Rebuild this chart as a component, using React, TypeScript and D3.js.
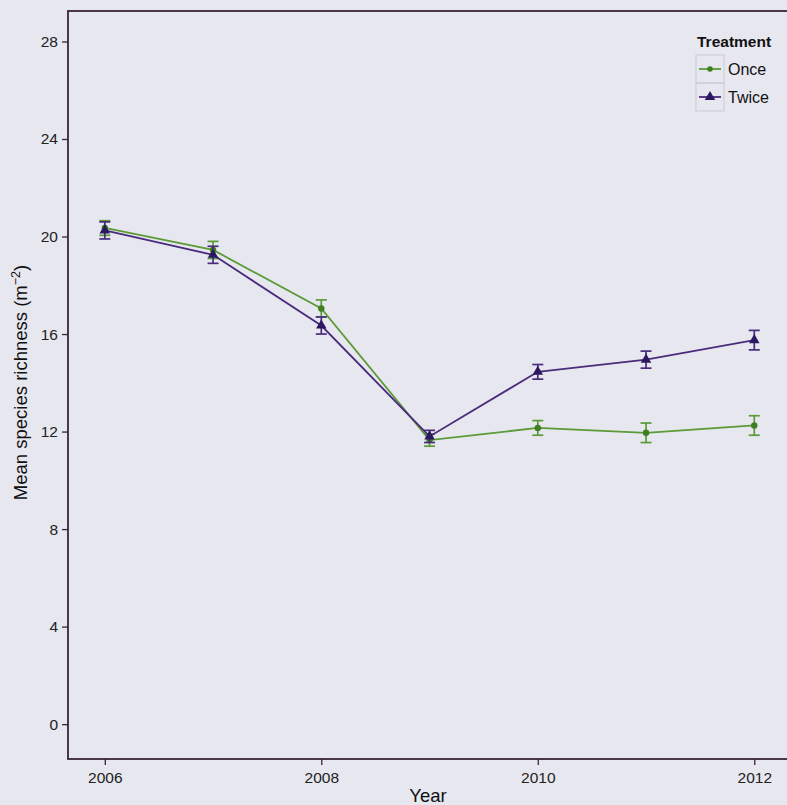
import React, { useEffect, useRef } from 'react';
import * as d3 from 'd3';

const years = [2006, 2007, 2008, 2009, 2010, 2011, 2012];
const onceMean = [20.35, 19.45, 17.05, 11.65, 12.15, 11.95, 12.25];
const onceErr = [0.3, 0.35, 0.35, 0.25, 0.3, 0.4, 0.4];
const twiceMean = [20.25, 19.25, 16.35, 11.8, 14.45, 14.95, 15.75];
const twiceErr = [0.35, 0.35, 0.35, 0.25, 0.3, 0.35, 0.4];
const seriesNames = ['Once', 'Twice'];
const xTicks = [2006, 2008, 2010, 2012];
const yTicks = [0, 4, 8, 12, 16, 20, 24, 28];

const W = 787;
const H = 805;

const App: React.FC = () => {
  const ref = useRef<SVGSVGElement | null>(null);

  useEffect(() => {
    if (!ref.current) return;
    const svg = d3.select(ref.current);
    svg.selectAll('*').remove();

    const font = 'Liberation Sans, Arial, sans-serif';
    const axisCol = '#3b2433';
    const colors = ['#5b9a35', '#4a2b7c'];
    const markCols = ['#3f7f22', '#2c1860'];

    // panel edges
    const left = 68, right = 790, top = 11, bottom = 759;

    const x = d3.scaleLinear().domain([2005.66, 2012.33]).range([left, right]);
    const y = d3.scaleLinear().domain([-1.43, 29.25]).range([bottom, top]);

    svg.append('rect').attr('width', W).attr('height', H).attr('fill', '#e7e7f0');

    // panel border
    svg.append('rect')
      .attr('x', left).attr('y', top)
      .attr('width', right - left).attr('height', bottom - top)
      .attr('fill', 'none').attr('stroke', axisCol).attr('stroke-width', 1.8);

    // y axis
    const yAxis = svg.append('g').attr('transform', `translate(${left},0)`)
      .call(d3.axisLeft(y).tickValues(yTicks).tickSize(6).tickPadding(4).tickFormat(d3.format('d')));
    yAxis.select('.domain').remove();
    yAxis.selectAll('line').attr('stroke', axisCol).attr('stroke-width', 1.3);
    yAxis.selectAll('text').attr('font-family', font).attr('font-size', 15.5).attr('fill', '#222');

    // x axis
    const xAxis = svg.append('g').attr('transform', `translate(0,${bottom})`)
      .call(d3.axisBottom(x).tickValues(xTicks).tickSize(6).tickPadding(7).tickFormat(d3.format('d')));
    xAxis.select('.domain').remove();
    xAxis.selectAll('line').attr('stroke', axisCol).attr('stroke-width', 1.3);
    xAxis.selectAll('text').attr('font-family', font).attr('font-size', 15.5).attr('fill', '#222');

    // axis titles
    svg.append('text')
      .attr('x', 428).attr('y', 802)
      .attr('text-anchor', 'middle').attr('font-family', font).attr('font-size', 18.5).attr('fill', '#111')
      .text('Year');

    const yt = svg.append('text')
      .attr('transform', `translate(27,${(258 + 507) / 2}) rotate(-90)`)
      .attr('text-anchor', 'middle').attr('font-family', font).attr('font-size', 18.5).attr('fill', '#111');
    yt.append('tspan').text('Mean species richness (m');
    yt.append('tspan').attr('dy', -7).attr('font-size', 12.5).text('\u22122');
    yt.append('tspan').attr('dy', 7).text(')');

    const series = [
      { means: onceMean, errs: onceErr },
      { means: twiceMean, errs: twiceErr },
    ];

    const line = d3.line<number>().x((_, i) => x(years[i])).y(d => y(d));
    const tri = d3.symbol().type(d3.symbolTriangle).size(48);

    series.forEach((s, si) => {
      const g = svg.append('g');
      g.append('path').datum(s.means).attr('d', line)
        .attr('fill', 'none').attr('stroke', colors[si]).attr('stroke-width', 1.8);
      s.means.forEach((m, i) => {
        const cx = x(years[i]);
        const e = s.errs[i];
        g.append('line').attr('x1', cx).attr('x2', cx).attr('y1', y(m - e)).attr('y2', y(m + e))
          .attr('stroke', colors[si]).attr('stroke-width', 1.7);
        [m - e, m + e].forEach(v => {
          g.append('line').attr('x1', cx - 5.5).attr('x2', cx + 5.5).attr('y1', y(v)).attr('y2', y(v))
            .attr('stroke', colors[si]).attr('stroke-width', 1.7);
        });
        if (si === 0) {
          g.append('circle').attr('cx', cx).attr('cy', y(m)).attr('r', 3.2).attr('fill', markCols[si]);
        } else {
          g.append('path').attr('d', tri).attr('transform', `translate(${cx},${y(m)})`).attr('fill', markCols[si]);
        }
      });
    });

    // legend
    const lg = svg.append('g').attr('transform', 'translate(696,0)');
    lg.append('text').attr('x', 1).attr('y', 47).attr('font-family', font).attr('font-weight', 'bold')
      .attr('font-size', 15.5).attr('fill', '#111').text('Treatment');
    seriesNames.forEach((name, i) => {
      const cy = 69 + i * 28;
      lg.append('rect').attr('x', 0).attr('y', cy - 14).attr('width', 28).attr('height', 28)
        .attr('fill', 'none').attr('stroke', '#c9c9d6').attr('stroke-width', 1);
      lg.append('line').attr('x1', 3).attr('x2', 25).attr('y1', cy).attr('y2', cy)
        .attr('stroke', colors[i]).attr('stroke-width', 1.8);
      if (i === 0) {
        lg.append('circle').attr('cx', 14).attr('cy', cy).attr('r', 2.8).attr('fill', markCols[i]);
      } else {
        lg.append('path').attr('d', tri).attr('transform', `translate(14,${cy})`).attr('fill', markCols[i]);
      }
      lg.append('text').attr('x', 32).attr('y', cy + 5.5).attr('font-family', font)
        .attr('font-size', 16).attr('fill', '#111').text(name);
    });
  }, []);

  return (
    <svg ref={ref} width={W} height={H}
      style={{ position: 'absolute', left: 0, top: 0, display: 'block' }} />
  );
};

export default App;
